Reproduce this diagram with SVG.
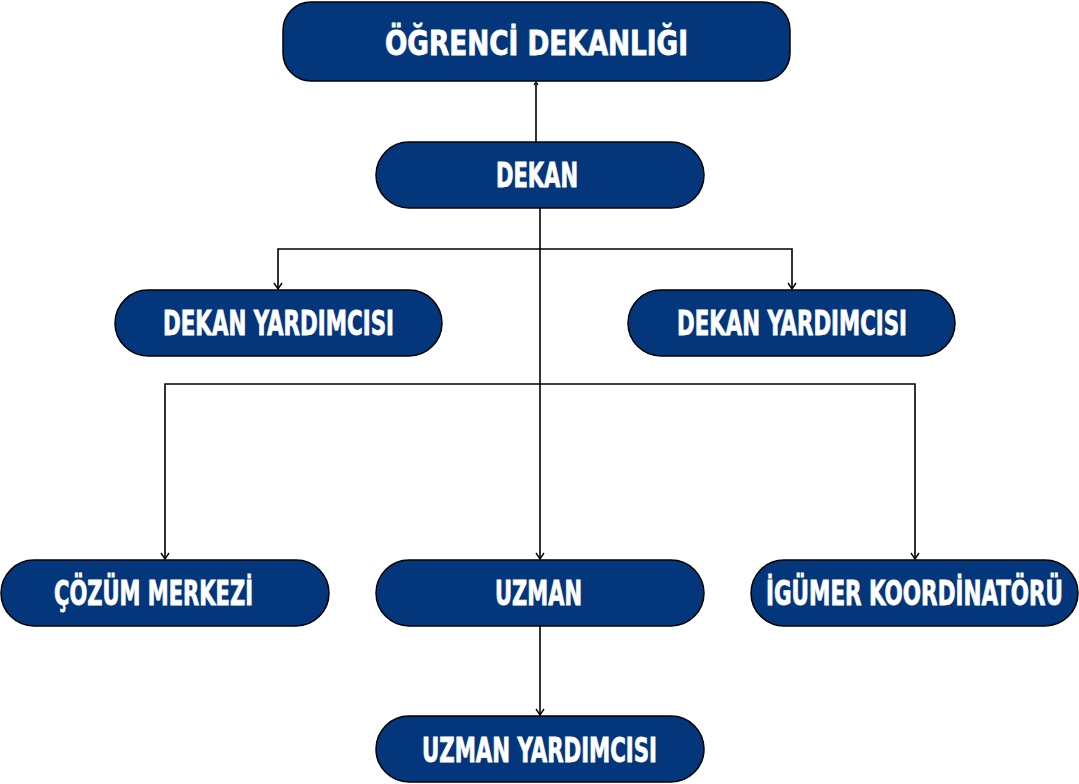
<svg xmlns="http://www.w3.org/2000/svg" width="1079" height="784" viewBox="0 0 1079 784">
<style>
.box{fill:#03367A;stroke:#000;stroke-width:1.5}
.t{font-family:"DejaVu Sans","Liberation Sans",sans-serif;font-stretch:condensed;font-weight:bold;font-size:33px;fill:#fff;stroke:#fff;stroke-width:0.8}
.c{fill:none;stroke:#000;stroke-width:1.6}
</style>
<defs>
<marker id="ah" markerWidth="10" markerHeight="10" refX="9" refY="5" orient="auto" markerUnits="userSpaceOnUse" viewBox="0 0 10 10">
<path d="M3,1 L9,5 L3,9" fill="none" stroke="#000" stroke-width="1.4"/>
</marker>
<marker id="ahs" markerWidth="6" markerHeight="6" refX="5" refY="3" orient="auto" markerUnits="userSpaceOnUse" viewBox="0 0 6 6">
<path d="M2,1 L5,3 L2,5" fill="none" stroke="#000" stroke-width="1.2"/>
</marker>
</defs>
<rect width="1079" height="784" fill="#fff"/>
<g id="connectors">
<path class="c" d="M536,142 L536,82" marker-end="url(#ahs)"/>
<path class="c" d="M540,208 L540,559" marker-end="url(#ah)"/>
<path class="c" d="M540,249 L278,249 L278,289" marker-end="url(#ah)"/>
<path class="c" d="M540,249 L792,249 L792,289" marker-end="url(#ah)"/>
<path class="c" d="M540,384 L165,384 L165,559" marker-end="url(#ah)"/>
<path class="c" d="M540,384 L915,384 L915,559" marker-end="url(#ah)"/>
<path class="c" d="M540,626 L540,715" marker-end="url(#ah)"/>
</g>
<g id="ogrenci-dekanligi">
<rect class="box" x="283" y="2" width="507" height="79" rx="28"/>
<text class="t" x="385" y="55" textLength="303" lengthAdjust="spacingAndGlyphs">ÖĞRENCİ DEKANLIĞI</text>
</g>
<g id="dekan">
<rect class="box" x="376" y="142" width="328" height="66" rx="33"/>
<text class="t" x="496" y="187" textLength="82" lengthAdjust="spacingAndGlyphs">DEKAN</text>
</g>
<g id="dekan-yardimcisi-1">
<rect class="box" x="115" y="290" width="327" height="66" rx="33"/>
<text class="t" x="163" y="335" textLength="231" lengthAdjust="spacingAndGlyphs">DEKAN YARDIMCISI</text>
</g>
<g id="dekan-yardimcisi-2">
<rect class="box" x="628" y="290" width="327" height="66" rx="33"/>
<text class="t" x="677" y="335" textLength="230" lengthAdjust="spacingAndGlyphs">DEKAN YARDIMCISI</text>
</g>
<g id="cozum-merkezi">
<rect class="box" x="1" y="560" width="328" height="66" rx="33"/>
<text class="t" x="54" y="605" textLength="199" lengthAdjust="spacingAndGlyphs">ÇÖZÜM MERKEZİ</text>
</g>
<g id="uzman">
<rect class="box" x="376" y="560" width="328" height="66" rx="33"/>
<text class="t" x="495" y="605" textLength="87" lengthAdjust="spacingAndGlyphs">UZMAN</text>
</g>
<g id="igumer-koordinatoru">
<rect class="box" x="751" y="560" width="327" height="66" rx="33"/>
<text class="t" x="766" y="605" textLength="297" lengthAdjust="spacingAndGlyphs">İGÜMER KOORDİNATÖRÜ</text>
</g>
<g id="uzman-yardimcisi">
<rect class="box" x="376" y="716" width="328" height="66" rx="33"/>
<text class="t" x="422" y="762" textLength="235" lengthAdjust="spacingAndGlyphs">UZMAN YARDIMCISI</text>
</g>
</svg>
